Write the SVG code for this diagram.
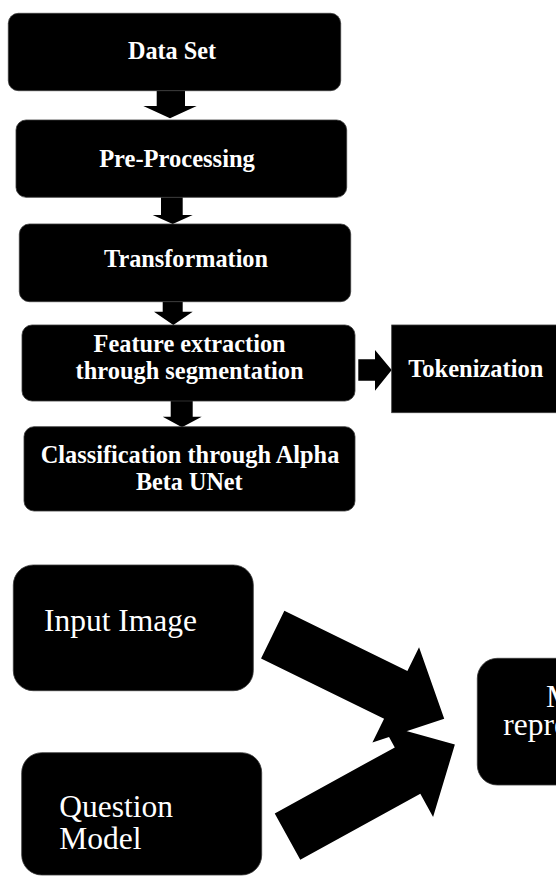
<svg xmlns="http://www.w3.org/2000/svg" width="556" height="876" viewBox="0 0 556 876">
<style>
.box{fill:#000;stroke:#3a3a3a;stroke-width:0.8}
.arr{fill:#000}
.b{font-family:"Liberation Serif","Times New Roman",serif;font-weight:bold;font-size:26px;fill:#fff;text-anchor:middle}
.r{font-family:"Liberation Serif","Times New Roman",serif;font-size:31.5px;fill:#fff}
</style>
<defs>
<polygon id="bigArrow" points="0,-26.5 137,-26.5 137,-53 191,0 137,53 137,26.5 0,26.5"/>
</defs>
<rect width="556" height="876" fill="#fff"/>
<g id="connectors">
<polygon class="arr" points="156.7,90.7 185,90.7 185,106 196.7,106 170,118.3 143.3,106 156.7,106"/>
<polygon class="arr" points="161,197.3 182.7,197.3 182.7,215 192.7,215 172.7,224 152.7,215 161,215"/>
<polygon class="arr" points="162.7,301.7 182.7,301.7 182.7,311.7 192.7,311.7 173.3,325 154,311.7 162.7,311.7"/>
<polygon class="arr" points="170.7,401 192.7,401 192.7,416.7 201.7,416.7 182,427.3 162.7,416.7 170.7,416.7"/>
<polygon class="arr" points="358.3,359.3 375,359.3 375,350 391.7,370 375,390.7 375,380.7 358.3,380.7"/>
<use href="#bigArrow" class="arr" transform="translate(287.5,836.6) rotate(-28.8)"/>
<use href="#bigArrow" class="arr" transform="translate(272.7,634.6) rotate(26.1)"/>
</g>
<g id="dataset">
<rect class="box" x="8.3" y="13.3" width="332.4" height="77.4" rx="10"/>
<text class="b" x="172" y="59.3" textLength="88" lengthAdjust="spacingAndGlyphs">Data Set</text>
</g>
<g id="preprocessing">
<rect class="box" x="16" y="120" width="330.7" height="77.3" rx="10"/>
<text class="b" x="177" y="166.7" textLength="155.7" lengthAdjust="spacingAndGlyphs">Pre-Processing</text>
</g>
<g id="transformation">
<rect class="box" x="19.3" y="224" width="331.4" height="77.7" rx="10"/>
<text class="b" x="186" y="266.7" textLength="164" lengthAdjust="spacingAndGlyphs">Transformation</text>
</g>
<g id="feature">
<rect class="box" x="22" y="325" width="333" height="76" rx="10"/>
<text class="b" x="189.6" y="351.5" textLength="192" lengthAdjust="spacingAndGlyphs">Feature extraction</text>
<text class="b" x="189.6" y="379" textLength="228" lengthAdjust="spacingAndGlyphs">through segmentation</text>
</g>
<g id="tokenization">
<rect class="box" x="391.7" y="325" width="170" height="87.7"/>
<text class="b" x="475.8" y="376.7" textLength="135" lengthAdjust="spacingAndGlyphs">Tokenization</text>
</g>
<g id="classification">
<rect class="box" x="24" y="426.7" width="331" height="84.3" rx="10"/>
<text class="b" x="190" y="463.3" textLength="298.7" lengthAdjust="spacingAndGlyphs">Classification through Alpha</text>
<text class="b" x="189.3" y="490" textLength="106.7" lengthAdjust="spacingAndGlyphs">Beta UNet</text>
</g>
<g id="inputimage">
<rect class="box" x="13.3" y="565" width="240" height="125.7" rx="20"/>
<text class="r" x="44" y="631">Input Image</text>
</g>
<g id="question">
<rect class="box" x="21.7" y="752.7" width="240" height="122.3" rx="20"/>
<text class="r" x="59.3" y="817.3">Question</text>
<text class="r" x="59.3" y="849.3">Model</text>
</g>
<g id="merged">
<rect class="box" x="477.3" y="658.3" width="120" height="126.7" rx="20"/>
<text class="r" x="546" y="706.7">M</text>
<text class="r" x="503.3" y="735">repre</text>
</g>
</svg>
